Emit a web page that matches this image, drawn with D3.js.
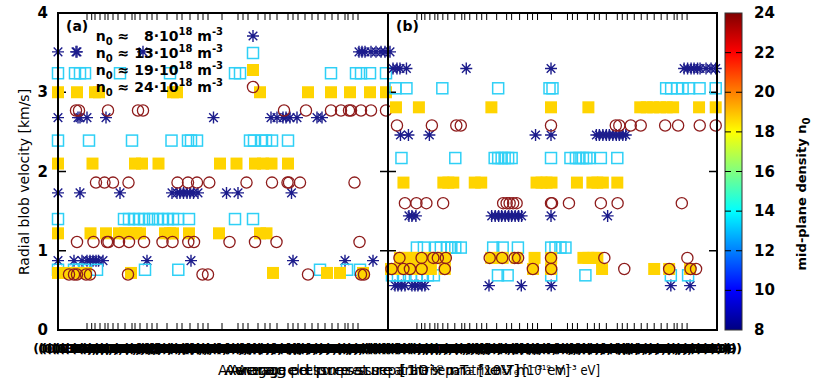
<!DOCTYPE html>
<html>
<head>
<meta charset="utf-8">
<script src="https://cdn.jsdelivr.net/npm/d3@7"></script>
<style>
body { margin: 0; background: #fff; }
text { font-family: "DejaVu Sans", sans-serif; }
</style>
</head>
<body>
<script>
// rows are [velocity km/s, [x positions of the blobs]]
// panel (a)
var aN8 = [
  [3.51, [0, 1.8, 1.9, 8.5, 30.1, 30.4, 30.7, 31.3, 31.8, 32.3, 32.7, 33.2]],
  [2.68, [0, 2.0, 2.2, 2.9, 4.8, 15.55, 21.3, 21.9, 22.5, 22.8, 23.2, 23.9, 25.9, 26.4]],
  [1.73, [0, 2.2, 6.2, 11.4, 11.9, 12.2, 12.55, 12.9, 13.2, 13.55, 14.0, 16.85, 18.0, 23.35]],
  [0.875, [0, 1.6, 2.4, 2.9, 3.2, 3.5, 3.8, 4.05, 4.5, 8.9, 13.3, 23.5, 28.7, 31.5]]
];
var aN13 = [
  [3.24, [0, 1.7, 2.2, 2.7, 6.2, 11.2, 17.7, 18.2, 27.3, 29.8, 30.3, 31.2, 32.8]],
  [2.39, [0, 3.1, 7.4, 11.35, 13.0, 13.3, 13.9, 19.2, 19.6, 20.4, 20.8, 21.4, 23.0]],
  [1.40, [0, 6.6, 7.1, 7.6, 8.1, 8.6, 9.1, 9.5, 10.0, 10.5, 11.0, 11.5, 12.0, 13.1, 17.7, 19.5]],
  [0.76, [0, 1.6, 2.0, 2.6, 3.9, 8.7, 12.03, 26.2, 28.9, 30.2]]
];
var aN19 = [
  [3.00, [0, 1.9, 3.7, 4.1, 11.5, 11.9, 20.2, 25.0, 27.3, 29.2, 31.2, 32.8]],
  [2.10, [0, 3.45, 7.7, 8.4, 10.05, 16.2, 17.85, 19.7, 20.5, 21.35, 23.0]],
  [1.22, [0, 3.25, 4.8, 6.1, 6.7, 7.3, 7.8, 8.2, 10.7, 11.2, 11.5, 13.1, 16.1, 20.2, 20.85]],
  [0.72, [0, 1.0, 1.9, 2.8, 7.3, 21.5, 26.9, 28.2, 30.5]]
];
var aN24 = [
  [2.77, [1.8, 2.1, 5.0, 8.0, 8.5, 22.6, 24.8, 27.3, 28.3, 29.1, 29.3, 30.3, 31.3, 32.8]],
  [1.86, [3.8, 4.65, 5.5, 7.05, 11.95, 13.0, 13.9, 15.13, 18.85, 21.4, 22.95, 23.1, 24.2, 29.65]],
  [1.11, [1.9, 3.55, 4.9, 5.05, 6.1, 7.1, 8.6, 10.45, 11.45, 13.03, 13.6, 17.15, 19.7, 21.85, 30.15]],
  [0.70, [1.1, 1.6, 1.9, 2.8, 3.2, 7.0, 14.45, 15.0, 25.0, 30.3, 30.6]]
];
// panel (b)
var bN8 = [
  [3.30, [0.5, 0.9, 1.2, 1.85, 7.85, 16.35, 29.7, 30.05, 30.4, 30.7, 31.05, 31.3, 31.9, 32.4, 32.87]],
  [2.46, [1.25, 2.05, 4.15, 14.8, 16.35, 20.9, 21.2, 21.55, 21.9, 22.2, 22.55, 22.9, 23.2, 23.55, 23.85]],
  [1.44, [2.1, 2.4, 2.8, 10.4, 10.75, 11.1, 11.4, 11.75, 12.1, 12.4, 12.75, 13.1, 13.4, 16.35, 22.03]],
  [0.56, [0.7, 1.0, 1.35, 1.7, 2.4, 2.7, 3.0, 3.4, 3.7, 10.13, 13.37, 16.37, 28.37, 30.3]]
];
var bN13 = [
  [3.05, [0.75, 1.85, 5.45, 11.05, 16.2, 16.5, 27.9, 28.4, 29.0, 29.55, 30.2, 31.25, 32.87]],
  [2.17, [1.35, 6.75, 10.7, 11.05, 11.4, 11.7, 12.05, 12.4, 16.35, 18.3, 18.85, 19.2, 19.55, 19.9, 20.2, 21.35, 23.0]],
  [1.04, [2.9, 3.6, 4.8, 5.3, 5.95, 6.35, 6.75, 7.3, 10.55, 11.5, 13.03, 16.37, 16.8, 17.3, 17.8]],
  [0.69, [0.4, 1.0, 1.6, 2.3, 2.85, 3.4, 4.0, 4.6, 11.03, 12.0, 16.37, 19.8, 28.37, 30.1]]
];
var bN19 = [
  [2.81, [0.8, 3.1, 10.37, 16.35, 20.1, 25.3, 25.95, 26.6, 27.3, 27.95, 28.6, 31.2, 32.87]],
  [1.86, [1.55, 5.55, 6.05, 6.55, 8.7, 9.35, 14.9, 15.4, 15.9, 16.4, 18.95, 20.5, 21.0, 21.55, 23.0]],
  [0.91, [1.2, 1.7, 2.4, 3.0, 3.9, 4.7, 5.2, 5.7, 10.35, 11.2, 11.5, 12.9, 14.7, 16.37, 19.6, 20.1, 20.6, 21.0]],
  [0.77, [0.3, 0.8, 1.5, 2.5, 3.35, 4.3, 5.7, 14.55, 16.35, 21.47, 26.7, 28.2, 30.3]]
];
var bN24 = [
  [2.58, [0.9, 4.4, 6.85, 7.3, 16.35, 22.85, 23.2, 24.35, 25.35, 27.8, 29.1, 31.27, 32.87]],
  [1.60, [1.7, 2.85, 3.85, 5.53, 11.55, 11.9, 12.2, 12.55, 12.9, 16.35, 16.45, 18.15, 21.35, 23.03, 29.47]],
  [0.91, [1.15, 3.37, 4.55, 5.0, 5.8, 10.2, 11.45, 12.7, 13.05, 16.35, 21.7, 30.03]],
  [0.77, [0.35, 1.55, 2.2, 3.37, 5.7, 14.53, 16.37, 23.7, 28.2, 30.35, 30.9]]
];

var densities = ["8", "13", "19", "24"];   // legend, x10^18 m^-3
var yTicks = [0, 1, 2, 3, 4];
var cbTicks = [8, 10, 12, 14, 16, 18, 20, 22, 24];
var xTicks = [2.9, 3.37, 3.7, 4.2, 4.7, 5.0, 5.5, 6.0, 6.7, 7.4, 7.7, 8.2, 8.9, 9.4, 9.9, 10.9, 11.9, 12.4,
  13.2, 14.0, 14.5, 15.0, 16.4, 18.0, 18.5, 19.0, 20.0, 20.7, 21.2, 21.9, 23.0, 23.5, 24.0, 24.7, 25.4,
  26.0, 26.7, 27.4, 28.0, 28.7, 29.0, 29.5, 30.0];
var xTitles = ["Average", "Averaged pressure [10\u00B9\u2079 m\u207B\u00B3 eV]",
  "Average pressure at separatrix n\u2091T\u2091 [10\u00B9\u2079 m\u207B\u00B3 eV]",
  "Average electron pressure at the separatrix n\u2091T\u2091 [10\u00B9\u2079 m\u207B\u00B3 eV]"];

var w = 814, h = 388;
var top_ = 13, bot = 330;
var colors = ["#1c1c8c", "#2fd0f6", "#ffd400", "#8e1c1c"];

var svg = d3.select("body").append("svg").attr("width", w).attr("height", h);

var y = d3.scaleLinear().domain([0, 4]).range([bot, top_]);
var panels = [
  { x: d3.scaleLinear().domain([0, 33]).range([58, 388]), data: [aN8, aN13, aN19, aN24], tag: "(a)" },
  { x: d3.scaleLinear().domain([0, 33]).range([388, 717]), data: [bN8, bN13, bN19, bN24], tag: "(b)" }
];

function flat(rows) {
  var out = [];
  rows.forEach(function (r) { r[1].forEach(function (xv) { out.push([xv, r[0]]); }); });
  return out;
}

function marker(g, k) {
  if (k == 0) {
    var s = 6, d = 4.3;
    g.append("path")
      .attr("d", "M" + -s + ",0H" + s + "M0," + -s + "V" + s + "M" + -d + "," + -d + "L" + d + "," + d + "M" + -d + "," + d + "L" + d + "," + -d)
      .attr("stroke", colors[0]).attr("stroke-width", 1.4).attr("fill", "none");
  } else if (k == 1) {
    g.append("rect").attr("x", -5.5).attr("y", -5.5).attr("width", 11).attr("height", 11)
      .attr("fill", "none").attr("stroke", colors[1]).attr("stroke-width", 1.5);
  } else if (k == 2) {
    g.append("rect").attr("x", -6).attr("y", -6).attr("width", 12).attr("height", 12)
      .attr("fill", colors[2]);
  } else {
    g.append("circle").attr("r", 5.6).attr("fill", "none")
      .attr("stroke", colors[3]).attr("stroke-width", 1.3);
  }
}

var f4 = d3.format(".4f"), f3 = d3.format(".3f");

panels.forEach(function (p) {
  var x = p.x;
  var r0 = x.range()[0], r1 = x.range()[1];

  // x tick labels (they pile up on each other in the original too)
  var xa = d3.axisBottom(x).tickValues(xTicks).tickSize(0)
    .tickFormat(function (d) { return "(" + f4(d / 100) + "; " + f3(d / 33) + ")"; });
  var gx = svg.append("g").attr("transform", "translate(0," + (bot + 9) + ")").call(xa);
  gx.select(".domain").remove();
  gx.selectAll("text").attr("font-size", 12.5).attr("font-weight", "bold")
    .attr("fill", "#000").attr("dy", "0.9em");

  svg.selectAll(null).data(xTicks).enter().append("line")
    .attr("x1", function (d) { return x(d); }).attr("x2", function (d) { return x(d); })
    .attr("y1", bot).attr("y2", bot - 7).attr("stroke", "#000").attr("stroke-width", 1);
  svg.selectAll(null).data(xTicks).enter().append("line")
    .attr("x1", function (d) { return x(d); }).attr("x2", function (d) { return x(d); })
    .attr("y1", top_).attr("y2", top_ + 7).attr("stroke", "#000").attr("stroke-width", 1);

  // y ticks on both sides
  yTicks.forEach(function (t) {
    svg.append("line").attr("x1", r0).attr("x2", r0 + 8).attr("y1", y(t)).attr("y2", y(t))
      .attr("stroke", "#000").attr("stroke-width", 1.5);
    svg.append("line").attr("x1", r1 - 8).attr("x2", r1).attr("y1", y(t)).attr("y2", y(t))
      .attr("stroke", "#000").attr("stroke-width", 1.5);
  });

  // points
  p.data.forEach(function (rows, k) {
    svg.append("g").selectAll("g").data(flat(rows)).enter().append("g")
      .attr("transform", function (d) { return "translate(" + x(d[0]) + "," + y(d[1]) + ")"; })
      .each(function () { marker(d3.select(this), k); });
  });

  svg.append("rect").attr("x", r0).attr("y", top_).attr("width", r1 - r0).attr("height", bot - top_)
    .attr("fill", "none").attr("stroke", "#000").attr("stroke-width", 2);

  svg.append("text").attr("x", r0 + 8).attr("y", 31).attr("font-size", 14).attr("font-weight", "bold")
    .text(p.tag);
});

// y axis labels
svg.selectAll(null).data(yTicks).enter().append("text")
  .attr("x", 48).attr("y", function (d) { return y(d) + 5; })
  .attr("text-anchor", "end").attr("font-size", 15).attr("font-weight", "bold")
  .text(function (d) { return d; });

svg.append("text").attr("transform", "translate(29,182) rotate(-90)")
  .attr("text-anchor", "middle").attr("font-size", 14).text("Radial blob velocity [km/s]");

// x titles, overlapping as in the original output
var titleStart = [218, 224, 230, 238], titleEnd = [275, 520, 570, 600];
svg.selectAll(null).data(xTitles).enter().append("text")
  .attr("x", function (d, i) { return titleStart[i]; }).attr("y", 375).attr("font-size", 14)
  .attr("textLength", function (d, i) { return titleEnd[i] - titleStart[i]; })
  .attr("lengthAdjust", "spacingAndGlyphs")
  .text(function (d) { return d; });

// legend
var leg = svg.append("g");
densities.forEach(function (n, i) {
  var ly = 41 + i * 17;
  var t = leg.append("text").attr("x", 223).attr("y", ly).attr("text-anchor", "end")
    .attr("font-size", 14).attr("font-weight", "bold").attr("xml:space", "preserve");
  t.append("tspan").text("n");
  t.append("tspan").attr("font-size", 10).attr("dy", 4).text("0");
  t.append("tspan").attr("dy", -4).text(" \u2248 " + (n.length < 2 ? "\u2007" : "") + n + "\u00B710");
  t.append("tspan").attr("font-size", 10).attr("dy", -6).text("18");
  t.append("tspan").attr("dy", 6).text(" m");
  t.append("tspan").attr("font-size", 10).attr("dy", -6).text("-3");
  var g = leg.append("g").attr("transform", "translate(253," + (ly - 5) + ")");
  marker(g, i);
});

// colour bar
var jet = d3.scaleLinear().domain([8, 10, 14, 18, 22, 24])
  .range(["#000080", "#0000ff", "#00ffff", "#ffff00", "#ff0000", "#800000"]);
var cbY = d3.scaleLinear().domain([8, 24]).range([bot, top_]);
var grad = svg.append("defs").append("linearGradient").attr("id", "cb")
  .attr("x1", 0).attr("y1", 1).attr("x2", 0).attr("y2", 0);
d3.range(8, 24.01, 0.5).forEach(function (v) {
  grad.append("stop").attr("offset", (v - 8) / 16).attr("stop-color", jet(v));
});
svg.append("rect").attr("x", 725).attr("y", top_).attr("width", 17).attr("height", bot - top_)
  .attr("fill", "url(#cb)").attr("stroke", "#333").attr("stroke-width", 1);
cbTicks.forEach(function (t) {
  if (t > 8 && t < 24) {
    svg.append("line").attr("x1", 725).attr("x2", 742).attr("y1", cbY(t)).attr("y2", cbY(t))
      .attr("stroke", "#000").attr("stroke-width", 1).attr("stroke-dasharray", "6,5");
  }
});
svg.selectAll(null).data(cbTicks).enter().append("text")
  .attr("x", 754).attr("y", function (d) { return cbY(d) + 5; })
  .attr("font-size", 15).attr("font-weight", "bold").text(function (d) { return d; });

var cbl = svg.append("text").attr("transform", "translate(806,194) rotate(-90)")
  .attr("text-anchor", "middle").attr("font-size", 13).attr("font-weight", "bold");
cbl.append("tspan").text("mid-plane density n");
cbl.append("tspan").attr("font-size", 10).attr("dy", 4).text("0");
</script>
</body>
</html>
